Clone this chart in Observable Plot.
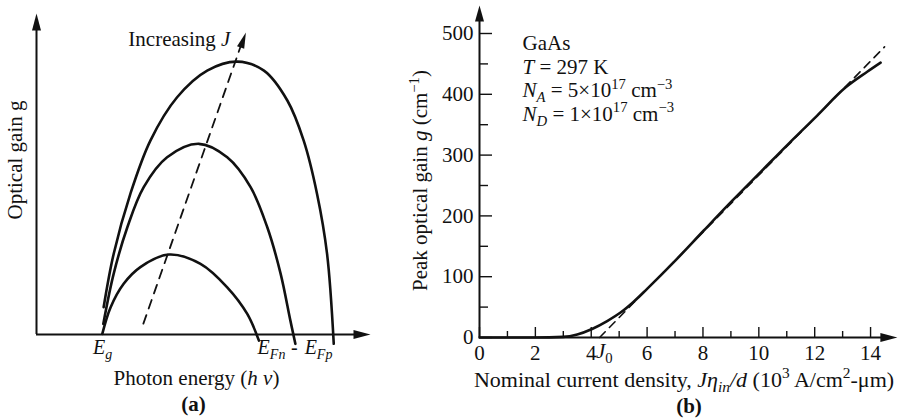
<!DOCTYPE html>
<html><head><meta charset="utf-8">
<script src="https://cdn.jsdelivr.net/npm/d3@7"></script>
<script src="https://cdn.jsdelivr.net/npm/@observablehq/plot@0.6"></script>
<style>
html,body{margin:0;padding:0;background:#fff;}
#wrap{display:flex;width:898px;height:418px;overflow:hidden;}
</style></head><body><div id="wrap"></div>
<script>
// ---------- Panel (a): optical gain spectra (arbitrary units) ----------
const curveLow = [[1.97,0.02],[2.22,0.85],[2.61,1.58],[3.11,2.1],[3.96,2.49],[4.91,2.2],[5.71,1.47],[6.31,0.64],[6.66,-0.19]];
const curveMid = [[2.0,0.33],[2.31,1.89],[2.72,3.34],[3.21,4.59],[3.91,5.52],[4.86,5.94],[5.71,5.52],[6.41,4.59],[6.91,3.34],[7.31,1.89],[7.6,0.44],[7.75,-0.29]];
const curveTop = [[2.01,0.85],[2.31,2.51],[2.81,4.38],[3.41,6.04],[4.21,7.39],[5.11,8.22],[6.01,8.5],[6.81,8.22],[7.51,7.29],[8.0,6.04],[8.4,4.38],[8.7,2.51],[8.9,-0.29]];
const peakTrend = [[3.2,0.34],[6.11,8.97]];
const peakTrendTip = [[6.27,9.41]];
const energyLabels = ["$E$_{$g$}", "$E$_{$Fn$}", "-", "$E$_{$Fp$}"];
const energyValues = [1.98, 6.62, 7.72, 8.86];
const energyAnchors = ["middle", "start", "middle", "end"];

// ---------- Panel (b): peak gain vs nominal current density ----------
const gainJ = [0, 1, 2, 3, 3.5, 4.03, 4.57, 5.05, 5.5, 6, 7, 8.03, 9.05, 10.06, 11.07, 12.09, 13.1, 13.88, 14.36];
const gainG = [0, 0, 0, 1, 5, 14, 27, 41, 58, 80, 126, 176, 225, 272, 319, 365, 411, 437, 452];
const fitJ = [4.3, 14.5];
const fitG = [0, 478];
const xMajorTicks = [0, 2, 4, 6, 8, 10, 12, 14];
const xMinorTicks = [1, 3, 5, 7, 9, 11, 13];
const yMajorTicks = [0, 100, 200, 300, 400, 500];
const yMinorTicks = [50, 150, 250, 350, 450];
const annotLines = ["GaAs", "$T$ = 297 K", "$N$_{$A$} = 5×10^{17} cm^{−3}", "$N$_{$D$} = 1×10^{17} cm^{−3}"];
const j0Label = "$J$_{0}";
const j0Value = 4.17;

// arrowhead symbol factory (tip at origin, pointing in direction angle, degrees clockwise from up)
function makeArrow(angle, len, hw) {
  const a = angle * Math.PI / 180, c = Math.cos(a), s = Math.sin(a);
  const rot = (x, y) => [x * c - y * s, x * s + y * c];
  return {draw(ctx) {
    const p1 = rot(hw, len), p2 = rot(-hw, len);
    ctx.moveTo(0, 0); ctx.lineTo(p1[0], p1[1]); ctx.lineTo(p2[0], p2[1]); ctx.closePath();
  }};
}

const FONT = "'Liberation Serif','Times New Roman',serif";
const INK = "#111";
const idx = energyLabels.map((d, i) => i);
const energyText = anchor => Plot.text(idx.filter(i => energyAnchors[i] === anchor), {
  x: i => energyValues[i], y: 0, text: i => energyLabels[i], textAnchor: anchor,
  lineAnchor: "bottom", dy: 19, fontSize: 20, fill: INK
});

const plotA = Plot.plot({
  width: 400, height: 418,
  marginLeft: 36, marginRight: 30, marginTop: 13, marginBottom: 84,
  x: {domain: [0, 10], axis: null},
  y: {domain: [0, 10], axis: null},
  style: {fontFamily: FONT, fontSize: "21px", background: "white", color: INK, overflow: "visible"},
  marks: [
    Plot.ruleY([0], {x1: 0, x2: 9.7, stroke: INK, strokeWidth: 2}),
    Plot.ruleX([0], {y1: 0, y2: 9.6, stroke: INK, strokeWidth: 2}),
    Plot.dot([[10, 0]], {x: d => d[0], y: d => d[1], symbol: makeArrow(90, 17, 4.5), r: 5, fill: INK, stroke: "none"}),
    Plot.dot([[0, 10]], {x: d => d[0], y: d => d[1], symbol: makeArrow(0, 17, 4.5), r: 5, fill: INK, stroke: "none"}),
    Plot.line(peakTrend, {x: d => d[0], y: d => d[1], stroke: INK, strokeWidth: 1.8, strokeDasharray: "9,7"}),
    Plot.dot(peakTrendTip, {x: d => d[0], y: d => d[1], symbol: makeArrow(19.4, 16, 3.8), r: 5, fill: INK, stroke: "none"}),
    Plot.line(curveLow, {x: d => d[0], y: d => d[1], curve: "catmull-rom", stroke: INK, strokeWidth: 2.6}),
    Plot.line(curveMid, {x: d => d[0], y: d => d[1], curve: "catmull-rom", stroke: INK, strokeWidth: 2.6}),
    Plot.line(curveTop, {x: d => d[0], y: d => d[1], curve: "catmull-rom", stroke: INK, strokeWidth: 2.6}),
    Plot.text(["Increasing $J$"], {x: 2.75, y: 9.0, text: d => d, textAnchor: "start", lineAnchor: "bottom", fill: INK}),
    energyText("middle"),
    energyText("start"),
    energyText("end"),
    Plot.text(["Photon energy ($h ν$)"], {frameAnchor: "bottom", text: d => d, textAnchor: "middle", lineAnchor: "bottom", dx: -7, dy: 50, fill: INK}),
    Plot.text(["(a)"], {frameAnchor: "bottom", text: d => d, textAnchor: "middle", lineAnchor: "bottom", dx: -10, dy: 76, fontWeight: "bold", fill: INK}),
    Plot.text(["Optical gain g"], {frameAnchor: "left", text: d => d, textAnchor: "middle", rotate: -90, dx: -21, dy: -14, fill: INK})
  ]
});

const plotB = Plot.plot({
  width: 498, height: 418,
  marginLeft: 79, marginRight: 0, marginTop: 33, marginBottom: 81,
  x: {domain: [0, 15]},
  y: {domain: [0, 500]},
  style: {fontFamily: FONT, fontSize: "21px", background: "white", color: INK, overflow: "visible"},
  marks: [
    Plot.axisX({ticks: xMinorTicks, tickSize: 6, dy: -6, fill: "none", stroke: INK, strokeWidth: 1.4}),
    Plot.axisX({ticks: xMajorTicks, tickSize: 10, dy: -10, fill: "none", stroke: INK, strokeWidth: 1.4}),
    Plot.axisY({ticks: yMinorTicks, tickSize: 9, dx: 9, fill: "none", stroke: INK, strokeWidth: 1.4}),
    Plot.axisY({ticks: yMajorTicks, tickSize: 13, dx: 13, fill: "none", stroke: INK, strokeWidth: 1.4}),
    Plot.axisX({ticks: xMajorTicks, tickSize: 0, tickPadding: 8, fill: INK, label: null}),
    Plot.axisY({ticks: yMajorTicks, tickSize: 0, tickPadding: 6, fill: INK, label: null}),
    Plot.ruleY([0], {x1: 0, x2: 14.5, stroke: INK, strokeWidth: 2}),
    Plot.ruleX([0], {y1: 0, y2: 525, stroke: INK, strokeWidth: 2}),
    Plot.dot([[14.96, 0]], {x: d => d[0], y: d => d[1], symbol: makeArrow(90, 17, 4.5), r: 5, fill: INK, stroke: "none"}),
    Plot.dot([[0, 546]], {x: d => d[0], y: d => d[1], symbol: makeArrow(0, 16, 4.5), r: 5, fill: INK, stroke: "none"}),
    Plot.line(fitJ, {x: d => d, y: (d, i) => fitG[i], stroke: INK, strokeWidth: 1.6, strokeDasharray: "8,6"}),
    Plot.line(gainJ, {x: d => d, y: (d, i) => gainG[i], curve: "monotone-x", stroke: INK, strokeWidth: 2.6}),
    Plot.text([j0Label], {x: j0Value, y: 0, text: d => d, textAnchor: "start", lineAnchor: "bottom", dy: 20, fill: INK}),
    Plot.text(annotLines, {x: 1.54, y: (d, i) => 473 - i * 38.8, text: d => d, textAnchor: "start", lineAnchor: "bottom", fill: INK}),
    Plot.text(["Peak optical gain $g$ (cm^{−1})"], {frameAnchor: "left", text: d => d, textAnchor: "middle", rotate: -90, dx: -59, dy: -5, fill: INK}),
    Plot.text(["Nominal current density, $Jη$_{$in$}$/d$ (10^{3} A/cm^{2}-μm)"], {frameAnchor: "bottom", text: d => d, textAnchor: "middle", lineAnchor: "bottom", dx: -5, dy: 49, fontSize: 22, fill: INK}),
    Plot.text(["(b)"], {frameAnchor: "bottom", text: d => d, textAnchor: "middle", lineAnchor: "bottom", dx: 0, dy: 75, fontWeight: "bold", fill: INK})
  ]
});

const wrap = document.getElementById("wrap");
wrap.appendChild(plotA);
wrap.appendChild(plotB);

// rich text: $..$ italic, _{..} subscript, ^{..} superscript
function parseRich(s) {
  const segs = []; let italic = false, shift = null, buf = "";
  const push = () => { if (buf) segs.push({text: buf, italic, shift}); buf = ""; };
  for (let i = 0; i < s.length; i++) {
    const c = s[i];
    if (c === "$") { push(); italic = !italic; }
    else if ((c === "_" || c === "^") && s[i + 1] === "{") { push(); shift = c === "_" ? "sub" : "sup"; i++; }
    else if (c === "}" && shift) { push(); shift = null; }
    else buf += c;
  }
  push();
  return segs;
}
const NS = "http://www.w3.org/2000/svg";
document.querySelectorAll("#wrap svg text").forEach(t => {
  const s = t.textContent;
  if (!(s.includes("$") || s.includes("_{") || s.includes("^{"))) return;
  const fs = parseFloat(getComputedStyle(t).fontSize) || 21;
  const segs = parseRich(s);
  t.textContent = "";
  let cur = 0;
  for (const seg of segs) {
    const target = seg.shift === "sub" ? fs * 0.25 : seg.shift === "sup" ? -fs * 0.4 : 0;
    const ts = document.createElementNS(NS, "tspan");
    if (target !== cur) ts.setAttribute("dy", target - cur);
    cur = target;
    if (seg.italic) ts.setAttribute("font-style", "italic");
    if (seg.shift) ts.setAttribute("font-size", fs * 0.7);
    ts.textContent = seg.text;
    t.appendChild(ts);
  }
});
</script>
</body></html>
